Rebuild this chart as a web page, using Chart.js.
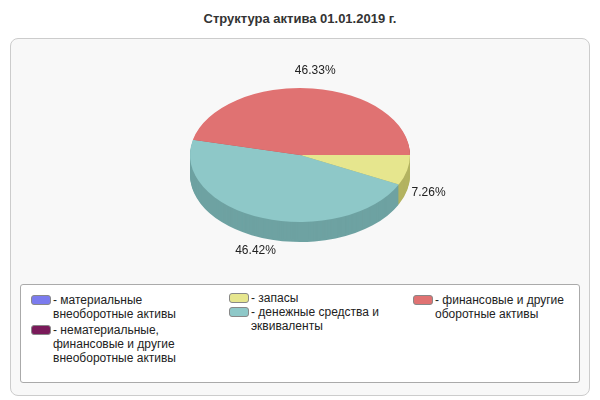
<!DOCTYPE html>
<html><head><meta charset="utf-8">
<script src="https://cdn.jsdelivr.net/npm/chart.js@4"></script>
<style>
body{margin:0;width:600px;height:400px;font-family:"Liberation Sans",Arial,sans-serif;background:#fff;position:relative;overflow:hidden}
#title{position:absolute;top:11px;left:0;width:600px;text-align:center;font-weight:bold;font-size:13px;color:#333}
#panel{position:absolute;left:10px;top:38px;width:578px;height:356px;border:1px solid #ccc;border-radius:8px;background:#f8f8f8}
#cv{position:absolute;left:0;top:0}
#legend{position:absolute;left:20px;top:284px;width:558px;height:97px;border:1px solid #aaa;border-radius:3px;background:#fff;font-size:12px;color:#222}
.it{position:absolute;line-height:14px}
.sw{position:absolute;left:0;top:2px;width:18px;height:8px;border:1px solid #888;border-radius:3px}
.tx{margin-left:22px}
</style></head><body>
<div id="title">Структура актива 01.01.2019 г.</div>
<div id="panel"></div>
<canvas id="cv" width="600" height="400"></canvas>
<div id="legend"></div>
<script>
const labels=["материальные внеоборотные активы","нематериальные, финансовые и другие внеоборотные активы","запасы","денежные средства и эквиваленты","финансовые и другие оборотные активы"];
const legendLines=[["- материальные","внеоборотные активы"],["- нематериальные,","финансовые и другие","внеоборотные активы"],["- запасы"],["- денежные средства и","эквиваленты"],["- финансовые и другие","оборотные активы"]];
const values=[0,0,7.26,46.42,46.33];
const colors=["#7b7bee","#7a1a5a","#e6e68e","#8ec8c8","#e07272"];
const sides=["#5a5ab0","#5a1040","#b3b360","#6ea2a2","#b05454"];
const pos=[[0,8],[0,38],[198,6],[198,20],[382,8]];
const lg=document.getElementById('legend');
legendLines.forEach((l,i)=>{const d=document.createElement('div');d.className='it';d.style.left=(10+pos[i][0])+'px';d.style.top=pos[i][1]+'px';
d.innerHTML='<div class="sw" style="background:'+colors[i]+'"></div><div class="tx">'+l.join('<br>')+'</div>';lg.appendChild(d);});
const RY=67,CY=155,DEPTH=20;
function sector(ctx,a){ctx.beginPath();ctx.moveTo(a.x,a.y);ctx.arc(a.x,a.y,a.outerRadius,a.startAngle,a.endAngle);ctx.closePath();}
const pie3d={id:'pie3d',
beforeDatasetsDraw(c){const ctx=c.ctx;const arcs=c.getDatasetMeta(0).data;const a0=arcs[0];const k=RY/a0.outerRadius;
 for(let d=DEPTH;d>=1;d--){ctx.save();ctx.translate(a0.x,CY+d);ctx.scale(1,k);ctx.translate(-a0.x,-a0.y);
  arcs.forEach((a,i)=>{if(!values[i])return;sector(ctx,a);ctx.fillStyle=sides[i];ctx.fill();});ctx.restore();}
 ctx.save();ctx.translate(a0.x,CY);ctx.scale(1,k);ctx.translate(-a0.x,-a0.y);},
afterDatasetsDraw(c){const ctx=c.ctx;ctx.restore();const arcs=c.getDatasetMeta(0).data;
 ctx.font='12px "Liberation Sans",Arial';ctx.fillStyle='#222';ctx.textAlign='center';ctx.textBaseline='middle';
 arcs.forEach((a,i)=>{if(!values[i])return;const m=(a.startAngle+a.endAngle)/2;const s=Math.sin(m);
  const x=a.x+Math.cos(m)*a.outerRadius*1.2;const y=CY+s*RY*1.2+(s>0?DEPTH:0)-(s<0?4:0);
  ctx.fillText(values[i].toFixed(2)+'%',x,y);});}};
new Chart(document.getElementById('cv'),{type:'pie',
data:{labels,datasets:[{data:values,backgroundColor:colors,borderWidth:0}]},
options:{responsive:false,animation:false,rotation:90,layout:{padding:{top:40,bottom:140}},
plugins:{legend:{display:false},tooltip:{enabled:false}}},plugins:[pie3d]});
</script></body></html>
